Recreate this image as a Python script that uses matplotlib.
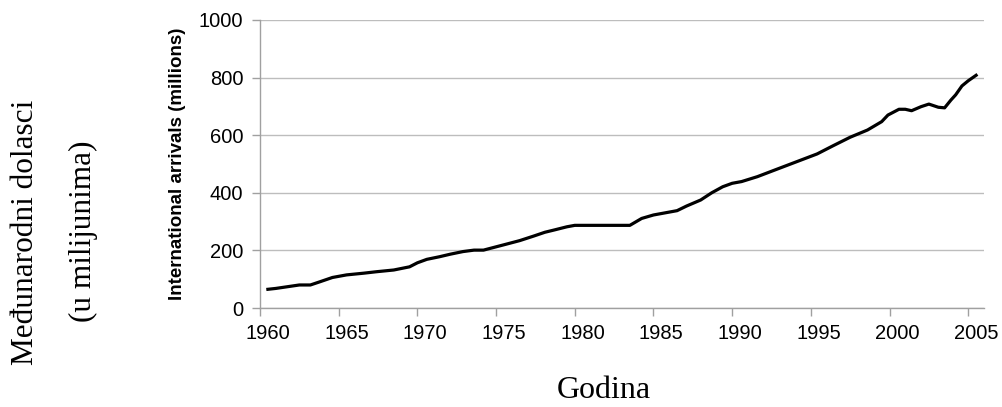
import matplotlib
matplotlib.use("Agg")
import matplotlib.pyplot as plt

# godine (decimalne) i dolasci u milijunima, očitano sa slike
years = [1960.5, 1961.0, 1962.5, 1963.2, 1963.8, 1964.6, 1965.5, 1966.6, 1967.4,
         1968.5, 1969.5, 1970.0, 1970.6, 1971.4, 1972.1, 1972.9, 1973.6, 1974.2,
         1974.9, 1975.6, 1976.5, 1977.4, 1978.1, 1978.7, 1979.5, 1980.0, 1983.5,
         1984.25, 1985.0, 1985.6, 1986.5, 1987.1, 1988.0, 1988.7, 1989.4, 1990.0,
         1990.6, 1991.6, 1992.8, 1994.1, 1995.4, 1996.4, 1997.5, 1998.6, 1999.5,
         1999.9, 2000.6, 2001.0, 2001.4, 2002.0, 2002.5, 2003.1, 2003.5, 2003.9,
         2004.2, 2004.6, 2005.0, 2005.5]
arrivals = [65, 68, 80, 80, 91, 106, 115, 121, 126,
            132, 143, 157, 169, 178, 187, 196, 201, 201,
            211, 221, 234, 250, 263, 271, 282, 287, 287,
            311, 323, 329, 338, 354, 375, 400, 421, 433,
            439, 456, 481, 508, 535, 563, 593, 618, 647,
            670, 690, 690, 685, 699, 708, 697, 695, 722,
            740, 771, 789, 808]

tick_years = [1960, 1965, 1970, 1975, 1980, 1985, 1990, 1995, 2000, 2005]
y_ticks = [0, 200, 400, 600, 800, 1000]

sans = "Liberation Sans"
serif = "Liberation Serif"

fig = plt.figure(figsize=(10.02, 4.07), dpi=100)
ax = fig.add_axes([0.2595, 0.2432, 0.7225, 0.7077])

ax.plot(years, arrivals, color="black", linewidth=2.3, solid_joinstyle="round")

ax.set_yticks(y_ticks)
ax.set_yticklabels([str(v) for v in y_ticks], fontfamily=sans, fontsize=14.5)
ax.grid(axis="y", color="#bdbdbd", linewidth=1.0)
ax.set_axisbelow(True)

ax.set_xticks(tick_years)
ax.set_xticklabels([])
ax.tick_params(axis="x", length=6, color="#a0a0a0", width=1)
ax.tick_params(axis="y", length=6, color="#a0a0a0", width=1, pad=6)
ax.set_xlim(1960, 2006)
ax.set_ylim(0, 1000)

# oznake godina stoje malo desno od crtica (kao u Excelu)
for yr in tick_years:
    ax.text(yr + 0.5, -0.087, str(yr), transform=ax.get_xaxis_transform(),
            ha="center", va="center", fontfamily=sans, fontsize=14.5, clip_on=False)

for s in ["top", "right"]:
    ax.spines[s].set_visible(False)
for s in ["left", "bottom"]:
    ax.spines[s].set_color("#a0a0a0")
    ax.spines[s].set_linewidth(1)

ax.set_ylabel("International arrivals (millions)", fontfamily=sans, fontweight="bold",
              fontsize=13.5, labelpad=9)

fig.text(0.025, 0.43, "Međunarodni dolasci", rotation=90, ha="center", va="center",
         fontfamily=serif, fontsize=22.5)
fig.text(0.083, 0.432, "(u milijunima)", rotation=90, ha="center", va="center",
         fontfamily=serif, fontsize=22.5)
fig.text(0.603, 0.022, "Godina", ha="center", va="baseline", fontfamily=serif, fontsize=23)

fig.savefig("out.png", dpi=100)
